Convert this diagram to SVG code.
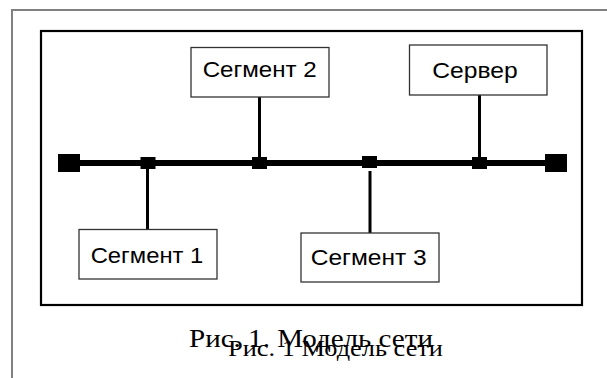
<svg xmlns="http://www.w3.org/2000/svg" width="607" height="378" viewBox="0 0 607 378">
  <style>
    .node rect { fill: #ffffff; stroke: #333333; stroke-width: 1.3; }
    .node text { font-family: "Liberation Sans", Arial, sans-serif; font-size: 22.5px; fill: #000000; }
    .drop { stroke: #000000; stroke-width: 3; fill: none; }
    .tap { fill: #000000; }
    .caption { font-family: "Liberation Serif", "Times New Roman", serif; fill: #000000; }
  </style>
  <rect width="607" height="378" fill="#ffffff"/>

  <!-- page frame (top and left edges) -->
  <path d="M12 378 V10 H607" fill="none" stroke="#808080" stroke-width="2"/>

  <!-- figure border -->
  <rect x="41" y="31" width="541" height="274" fill="none" stroke="#000000" stroke-width="2.2"/>

  <g id="connectors">
    <!-- bus with terminators -->
    <line x1="70" y1="163" x2="556" y2="163" stroke="#000000" stroke-width="6"/>
    <rect class="tap" x="58" y="154" width="22" height="18"/>
    <rect class="tap" x="545" y="154" width="22" height="18"/>
    <!-- taps on the bus -->
    <rect class="tap" x="140.5" y="157" width="15" height="12"/>
    <rect class="tap" x="252" y="157" width="15" height="12"/>
    <rect class="tap" x="362" y="156" width="15" height="12"/>
    <rect class="tap" x="472" y="157" width="15" height="12"/>
    <!-- drops to the nodes -->
    <line class="drop" x1="147.5" y1="163" x2="147.5" y2="229.5"/>
    <line class="drop" x1="259.5" y1="97" x2="259.5" y2="163"/>
    <line class="drop" x1="370" y1="171" x2="370" y2="233"/>
    <line class="drop" x1="479.5" y1="95" x2="479.5" y2="163"/>
  </g>

  <g id="segment2" class="node">
    <rect x="191" y="47.5" width="138" height="49.5"/>
    <text x="202.7" y="77.3" textLength="114" lengthAdjust="spacingAndGlyphs">Сегмент 2</text>
  </g>

  <g id="server" class="node">
    <rect x="409.5" y="45" width="137.5" height="50"/>
    <text x="432.3" y="77.7" textLength="85.4" lengthAdjust="spacingAndGlyphs">Сервер</text>
  </g>

  <g id="segment1" class="node">
    <rect x="79" y="229.5" width="138" height="49.5"/>
    <text x="90.7" y="262.7" textLength="112.6" lengthAdjust="spacingAndGlyphs">Сегмент 1</text>
  </g>

  <g id="segment3" class="node">
    <rect x="301" y="233" width="138" height="49"/>
    <text x="310.7" y="265.3" textLength="116" lengthAdjust="spacingAndGlyphs">Сегмент 3</text>
  </g>

  <!-- caption, printed twice with a slight offset -->
  <text class="caption" x="189" y="346.7" font-size="25" textLength="244" lengthAdjust="spacingAndGlyphs">Рис. 1. Модель сети</text>
  <text class="caption" x="228" y="356" font-size="23" textLength="215" lengthAdjust="spacingAndGlyphs">Рис. 1 Модель сети</text>
</svg>
